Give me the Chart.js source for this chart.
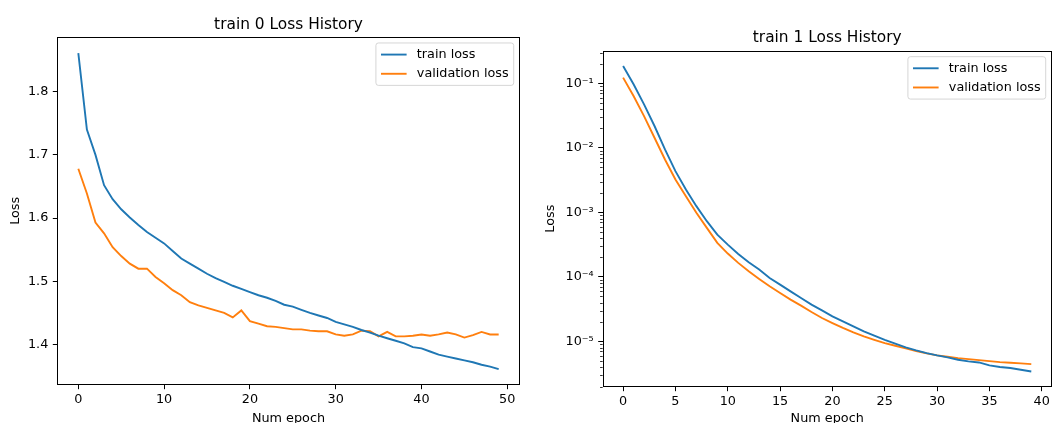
<!DOCTYPE html>
<html><head><meta charset="utf-8">
<script src="https://cdn.jsdelivr.net/npm/chart.js@4.4.1/dist/chart.umd.min.js"></script>
<style>
html,body{margin:0;padding:0;background:#fff;overflow:hidden;width:1054px;height:423px}
#wrap{position:relative;width:1054px;height:423px;overflow:hidden;background:#fff}
canvas{position:absolute;top:0}
#c0{left:0}
#c1{left:527px}
</style></head><body>
<div id="wrap"><canvas id="c0" width="527" height="423"></canvas><canvas id="c1" width="527" height="423"></canvas></div>
<script>
// ---------- data: chart 0 ----------
const epochs0 = [0,1,2,3,4,5,6,7,8,9,10,11,12,13,14,15,16,17,18,19,20,21,22,23,24,25,26,27,28,29,30,31,32,33,34,35,36,37,38,39,40,41,42,43,44,45,46,47,48,49];
const trainLoss0 = [1.861,1.740,1.700,1.652,1.630,1.614,1.601,1.589,1.578,1.569,1.560,1.548,1.536,1.528,1.520,1.512,1.505,1.499,1.493,1.488,1.483,1.478,1.474,1.469,1.463,1.460,1.455,1.450,1.446,1.442,1.436,1.432,1.428,1.423,1.419,1.414,1.410,1.406,1.402,1.396,1.394,1.389,1.384,1.381,1.378,1.375,1.372,1.368,1.365,1.361];
const valLoss0 = [1.678,1.639,1.593,1.576,1.554,1.540,1.528,1.520,1.520,1.507,1.497,1.486,1.478,1.467,1.462,1.458,1.454,1.450,1.443,1.454,1.437,1.433,1.429,1.428,1.426,1.424,1.424,1.422,1.421,1.421,1.416,1.414,1.416,1.422,1.421,1.413,1.420,1.413,1.413,1.414,1.416,1.414,1.416,1.419,1.416,1.411,1.415,1.420,1.416,1.416];
const xTicks0 = [0,10,20,30,40,50];
const yTicks0 = [1.4,1.5,1.6,1.7,1.8];
const yTickLabels0 = ['1.4','1.5','1.6','1.7','1.8'];

// ---------- data: chart 1 ----------
const epochs1 = [0,1,2,3,4,5,6,7,8,9,10,11,12,13,14,15,16,17,18,19,20,21,22,23,24,25,26,27,28,29,30,31,32,33,34,35,36,37,38,39];
const trainLoss1 = [0.186,0.0965,0.0472,0.0218,0.00946,0.00436,0.00226,0.00125,0.000730,0.000453,0.000317,0.000227,0.000169,0.000130,9.63e-5,7.59e-5,5.98e-5,4.72e-5,3.72e-5,3.03e-5,2.45e-5,2.05e-5,1.71e-5,1.43e-5,1.23e-5,1.06e-5,9.23e-6,8.09e-6,7.26e-6,6.61e-6,6.08e-6,5.66e-6,5.21e-6,4.91e-6,4.73e-6,4.25e-6,4.01e-6,3.87e-6,3.64e-6,3.43e-6];
const valLoss1 = [0.1225,0.0636,0.0311,0.01436,0.00661,0.00324,0.00178,0.000984,0.000575,0.000337,0.000230,0.000165,0.000122,9.29e-5,7.16e-5,5.64e-5,4.45e-5,3.59e-5,2.86e-5,2.31e-5,1.93e-5,1.62e-5,1.38e-5,1.20e-5,1.06e-5,9.44e-6,8.59e-6,7.80e-6,7.10e-6,6.53e-6,6.08e-6,5.80e-6,5.52e-6,5.33e-6,5.14e-6,4.96e-6,4.79e-6,4.67e-6,4.57e-6,4.46e-6];
const xTicks1 = [0,5,10,15,20,25,30,35,40];
const yTicks1 = [1e-5,1e-4,1e-3,1e-2,1e-1];
const yTickLabels1 = ['10\u207B\u2075','10\u207B\u2074','10\u207B\u00B3','10\u207B\u00B2','10\u207B\u00B9'];
const minorTicks1 = [2e-6,3e-6,4e-6,5e-6,6e-6,7e-6,8e-6,9e-6,2e-5,3e-5,4e-5,5e-5,6e-5,7e-5,8e-5,9e-5,2e-4,3e-4,4e-4,5e-4,6e-4,7e-4,8e-4,9e-4,2e-3,3e-3,4e-3,5e-3,6e-3,7e-3,8e-3,9e-3,2e-2,3e-2,4e-2,5e-2,6e-2,7e-2,8e-2,9e-2,2e-1,3e-1];

const seriesLabels = ['train loss','validation loss'];
const BLUE = '#1f77b4', ORANGE = '#ff7f0e';
const FS = 12.8;

Chart.defaults.font.family = '"DejaVu Sans", sans-serif';
Chart.defaults.color = '#000';

const framePlugin = {
  id: 'frame',
  afterDatasetsDraw(chart) {
    const {ctx, chartArea: a} = chart;
    ctx.save();
    // minor ticks (log axis)
    const mt = chart.options.plugins.frame && chart.options.plugins.frame.minor;
    if (mt) {
      const ys = chart.scales.y;
      ctx.strokeStyle = '#000'; ctx.lineWidth = 0.8;
      mt.forEach(v => {
        if (v < ys.min || v > ys.max) return;
        const p = Math.round(ys.getPixelForValue(v)) + 0.5;
        ctx.beginPath(); ctx.moveTo(a.left - 2.6, p); ctx.lineTo(a.left, p); ctx.stroke();
      });
    }
    // legend
    ctx.font = FS + 'px "DejaVu Sans"';
    const labels = chart.data.datasets.map(d => d.label);
    const tw = Math.max(...labels.map(l => ctx.measureText(l).width));
    const pad = 5.1, hl = 25.6, htp = 10.2, rowH = 19.2, th = 13;
    const w = pad + hl + htp + tw + pad;
    const h = pad * 2 + th * labels.length + (rowH - th) * (labels.length - 1);
    const x0 = a.right - 6 - w, y0 = a.top + 6;
    ctx.beginPath();
    ctx.roundRect(x0, y0, w, h, 2.5);
    ctx.fillStyle = 'rgba(255,255,255,0.8)';
    ctx.fill();
    ctx.strokeStyle = 'rgba(204,204,204,0.8)';
    ctx.lineWidth = 1;
    ctx.stroke();
    chart.data.datasets.forEach((d, i) => {
      const cy = y0 + pad + th / 2 + i * rowH;
      ctx.strokeStyle = d.borderColor; ctx.lineWidth = d.borderWidth;
      ctx.beginPath(); ctx.moveTo(x0 + pad, cy); ctx.lineTo(x0 + pad + hl, cy); ctx.stroke();
      ctx.fillStyle = '#000'; ctx.textBaseline = 'middle'; ctx.textAlign = 'left';
      ctx.fillText(d.label, x0 + pad + hl + htp, cy);
    });
    // box spines
    ctx.strokeStyle = '#000'; ctx.lineWidth = 1;
    const L = Math.round(a.left) + 0.5, T = Math.round(a.top) + 0.5;
    const R = Math.round(a.right) - 0.5, B = Math.round(a.bottom) - 0.5;
    ctx.strokeRect(L, T, R - L, B - T);
    ctx.restore();
  }
};

function makeChart(id, cfg) {
  const pts = (xs, ys) => xs.map((x, i) => ({x, y: ys[i]}));
  return new Chart(document.getElementById(id), {
    type: 'line',
    data: {
      datasets: [
        {label: seriesLabels[0], data: pts(cfg.epochs, cfg.train), borderColor: BLUE, backgroundColor: BLUE, borderWidth: 1.9, pointRadius: 0, tension: 0, fill: false},
        {label: seriesLabels[1], data: pts(cfg.epochs, cfg.val), borderColor: ORANGE, backgroundColor: ORANGE, borderWidth: 1.9, pointRadius: 0, tension: 0, fill: false}
      ]
    },
    options: {
      responsive: false, animation: false, devicePixelRatio: 1,
      layout: {padding: {left: 0, right: cfg.padRight, top: 0, bottom: 0}},
      plugins: {
        legend: {display: false}, tooltip: {enabled: false},
        title: {display: true, text: cfg.title, fullSize: false, color: '#000',
                font: {size: 15.4, weight: 'normal', lineHeight: 1.2},
                padding: {top: cfg.titleTop, bottom: cfg.titleBottom}},
        frame: {minor: cfg.minor}
      },
      scales: {
        x: {
          type: 'linear', position: 'bottom', min: cfg.xMin, max: cfg.xMax,
          afterBuildTicks: s => { s.ticks = cfg.xTicks.map(v => ({value: v})); },
          afterFit: s => { s.height = cfg.xHeight; },
          ticks: {autoSkip: false, maxRotation: 0, padding: 3, font: {size: FS}, color: '#000', callback: v => String(v)},
          grid: {display: true, drawOnChartArea: false, drawTicks: true, tickLength: 4.5, tickColor: '#000', tickWidth: 1},
          border: {display: false},
          title: {display: true, text: 'Num epoch', color: '#000', font: {size: FS, lineHeight: 1}, padding: {top: 0, bottom: -2}}
        },
        y: {
          type: cfg.yType, position: 'left', min: cfg.yMin, max: cfg.yMax,
          afterBuildTicks: s => { s.ticks = cfg.yTicks.map(v => ({value: v})); },
          afterFit: s => { s.width = cfg.yWidth; },
          ticks: {autoSkip: false, padding: 4.5, font: {size: FS}, color: '#000', callback: (v, i) => cfg.yLabels[i]},
          grid: {display: true, drawOnChartArea: false, drawTicks: true, tickLength: 4.5, tickColor: '#000', tickWidth: 1},
          border: {display: false},
          title: {display: true, text: 'Loss', color: '#000', font: {size: FS, lineHeight: 1}, padding: {top: cfg.yTitlePad, bottom: 0}}
        }
      }
    },
    plugins: [framePlugin]
  });
}

makeChart('c0', {
  title: 'train 0 Loss History', epochs: epochs0, train: trainLoss0, val: valLoss0,
  xMin: -2.45, xMax: 51.45, xTicks: xTicks0,
  yType: 'linear', yMin: 1.3365, yMax: 1.8865, yTicks: yTicks0, yLabels: yTickLabels0,
  padRight: 7.3, titleTop: 16, titleBottom: 2.5, xHeight: 38.3, yWidth: 57.3, yTitlePad: 9.1, minor: null
});
makeChart('c1', {
  title: 'train 1 Loss History', epochs: epochs1, train: trainLoss1, val: valLoss1,
  xMin: -1.95, xMax: 40.95, xTicks: xTicks1,
  yType: 'logarithmic', yMin: 1.99e-6, yMax: 0.3205, yTicks: yTicks1, yLabels: yTickLabels1,
  padRight: 2.3, titleTop: 28.3, titleBottom: 3.9, xHeight: 36.3, yWidth: 75.7, yTitlePad: 17.6, minor: minorTicks1
});
</script>
</body></html>
